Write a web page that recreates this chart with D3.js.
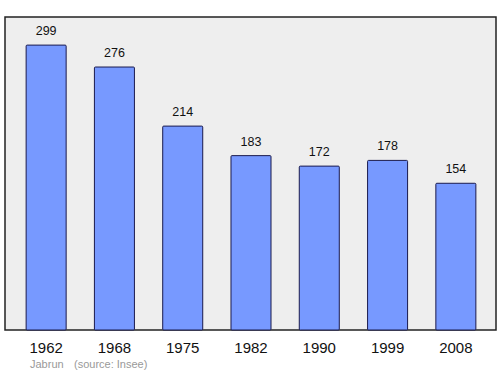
<!DOCTYPE html>
<html>
<head>
<meta charset="utf-8">
<script src="https://cdn.jsdelivr.net/npm/d3@7"></script>
<style>
  body { margin: 0; background: #fff; }
  text { font-family: "Liberation Sans", Arial, sans-serif; }
</style>
</head>
<body>
<svg id="chart" width="500" height="374"></svg>
<script>
const years = ['1962', '1968', '1975', '1982', '1990', '1999', '2008'];
const population = [299, 276, 214, 183, 172, 178, 154];
const commune = 'Jabrun';
const source = '(source: Insee)';

const frame = { left: 5, top: 17, right: 496, bottom: 330 };

const svg = d3.select('#chart');

// plot background
svg.append('rect')
  .attr('x', frame.left)
  .attr('y', frame.top)
  .attr('width', frame.right - frame.left)
  .attr('height', frame.bottom - frame.top)
  .attr('fill', '#eeeeee')
  .attr('stroke', '#222')
  .attr('stroke-width', 1.5);

const x = d3.scaleBand()
  .domain(years)
  .range([12, 490])
  .paddingInner(0.414)
  .paddingOuter(0.207);

const y = d3.scaleLinear()
  .domain([0, 328.5])
  .range([frame.bottom, frame.top]);

const data = years.map((yr, i) => ({ year: yr, value: population[i] }));

svg.selectAll('rect.bar')
  .data(data)
  .enter()
  .append('rect')
  .attr('class', 'bar')
  .attr('x', d => x(d.year))
  .attr('y', d => y(d.value))
  .attr('width', x.bandwidth())
  .attr('height', d => y(0) - y(d.value))
  .attr('rx', 1)
  .attr('fill', '#7799ff')
  .attr('stroke', '#1a1a4d')
  .attr('stroke-width', 1);

// value labels
svg.selectAll('text.val')
  .data(data)
  .enter()
  .append('text')
  .attr('class', 'val')
  .attr('x', d => x(d.year) + x.bandwidth() / 2)
  .attr('y', d => y(d.value) - 10)
  .attr('text-anchor', 'middle')
  .attr('font-size', 12.5)
  .attr('fill', '#111')
  .text(d => d.value);

// year labels
svg.selectAll('text.yr')
  .data(data)
  .enter()
  .append('text')
  .attr('class', 'yr')
  .attr('x', d => x(d.year) + x.bandwidth() / 2)
  .attr('y', 353)
  .attr('text-anchor', 'middle')
  .attr('font-size', 15)
  .attr('fill', '#111')
  .text(d => d.year);

svg.append('text')
  .attr('x', 30)
  .attr('y', 368)
  .attr('font-size', 11)
  .attr('fill', '#999')
  .text(commune);

svg.append('text')
  .attr('x', 74)
  .attr('y', 368)
  .attr('font-size', 11)
  .attr('fill', '#999')
  .text(source);
</script>
</body>
</html>
